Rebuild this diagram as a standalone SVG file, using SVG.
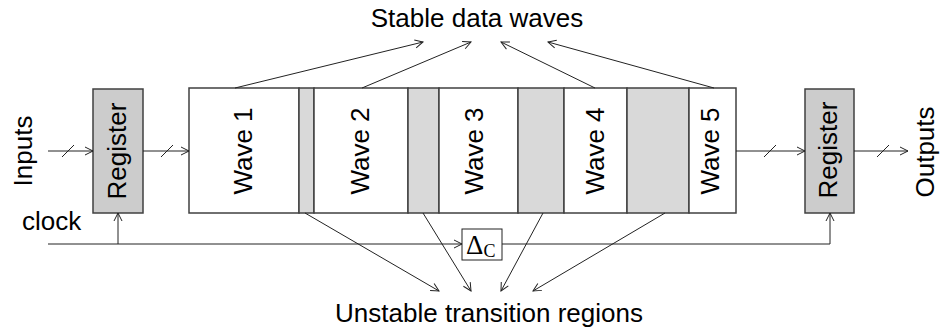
<svg xmlns="http://www.w3.org/2000/svg" width="944" height="334" viewBox="0 0 944 334">
  <style>
    .lbl { font-family: "Liberation Sans", Arial, sans-serif; font-size: 26px; fill: #000; }
    .box { stroke: #404040; stroke-width: 1.5; }
    .reg { fill: #cccccc; }
    .wave { fill: #ffffff; }
    .gap { fill: #d9d9d9; }
    .wire { stroke: #222; stroke-width: 1; fill: none; }
    .arr { marker-end: url(#open); }
    .bus { stroke: #222; stroke-width: 1; }
  </style>
  <defs>
    <marker id="open" markerWidth="10" markerHeight="10" refX="9" refY="5" orient="auto" markerUnits="userSpaceOnUse">
      <path d="M1,1 L9,5 L1,9" fill="none" stroke="#222" stroke-width="1"/>
    </marker>
  </defs>

  <rect width="944" height="334" fill="#ffffff"/>

  <!-- side labels -->
  <g id="inputs">
    <text class="lbl" text-anchor="middle" transform="translate(32,151) rotate(-90)">Inputs</text>
  </g>
  <g id="outputs">
    <text class="lbl" text-anchor="middle" transform="translate(934,152) rotate(-90)">Outputs</text>
  </g>
  <g id="clock">
    <text class="lbl" x="22" y="230">clock</text>
  </g>
  <g id="stable-label">
    <text class="lbl" text-anchor="middle" x="477" y="27">Stable data waves</text>
  </g>
  <g id="unstable-label">
    <text class="lbl" text-anchor="middle" x="489" y="322">Unstable transition regions</text>
  </g>

  <!-- input register -->
  <g id="reg-in">
    <rect class="box reg" x="93" y="89" width="50" height="124"/>
    <text class="lbl" text-anchor="middle" transform="translate(126,151) rotate(-90)">Register</text>
  </g>

  <!-- output register -->
  <g id="reg-out">
    <rect class="box reg" x="805" y="89" width="49" height="124"/>
    <text class="lbl" text-anchor="middle" transform="translate(837,150) rotate(-90)">Register</text>
  </g>

  <!-- pipeline of waves and transition regions -->
  <g id="wave-1">
    <rect class="box wave" x="189" y="88" width="110" height="125"/>
    <text class="lbl" text-anchor="middle" transform="translate(252,151) rotate(-90)">Wave 1</text>
  </g>
  <g id="gap-1"><rect class="box gap" x="299" y="88" width="15" height="125"/></g>
  <g id="wave-2">
    <rect class="box wave" x="314" y="88" width="94" height="125"/>
    <text class="lbl" text-anchor="middle" transform="translate(369,151) rotate(-90)">Wave 2</text>
  </g>
  <g id="gap-2"><rect class="box gap" x="408" y="88" width="31" height="125"/></g>
  <g id="wave-3">
    <rect class="box wave" x="439" y="88" width="79" height="125"/>
    <text class="lbl" text-anchor="middle" transform="translate(483,151) rotate(-90)">Wave 3</text>
  </g>
  <g id="gap-3"><rect class="box gap" x="518" y="88" width="46" height="125"/></g>
  <g id="wave-4">
    <rect class="box wave" x="564" y="88" width="63" height="125"/>
    <text class="lbl" text-anchor="middle" transform="translate(604,151) rotate(-90)">Wave 4</text>
  </g>
  <g id="gap-4"><rect class="box gap" x="627" y="88" width="62" height="125"/></g>
  <g id="wave-5">
    <rect class="box wave" x="689" y="88" width="47" height="125"/>
    <text class="lbl" text-anchor="middle" transform="translate(719,151) rotate(-90)">Wave 5</text>
  </g>

  <!-- clock skew element -->
  <g id="delta-c">
    <rect x="462" y="229" width="40" height="31" fill="#fff" stroke="#222" stroke-width="1"/>
    <text x="466" y="254" font-family="'Liberation Serif', 'Times New Roman', serif" font-size="27" fill="#000">Δ<tspan font-size="18" dy="3">C</tspan></text>
  </g>

  <g id="connectors">
    <!-- data path -->
    <line class="wire arr" x1="48" y1="151" x2="93" y2="151"/>
    <line class="bus" x1="62" y1="157" x2="74" y2="145"/>
    <line class="wire arr" x1="143" y1="151" x2="189" y2="151"/>
    <line class="bus" x1="161" y1="157" x2="173" y2="145"/>
    <line class="wire arr" x1="736" y1="151" x2="805" y2="151"/>
    <line class="bus" x1="764" y1="157" x2="776" y2="145"/>
    <line class="wire arr" x1="854" y1="151" x2="908" y2="151"/>
    <line class="bus" x1="877" y1="157" x2="889" y2="145"/>

    <!-- clock distribution -->
    <line class="wire arr" x1="48" y1="244" x2="462" y2="244"/>
    <line class="wire arr" x1="118" y1="244" x2="118" y2="213"/>
    <polyline class="wire arr" points="502,244 830,244 830,213"/>

    <!-- stable wave pointers -->
    <line class="wire arr" x1="235" y1="88" x2="423" y2="42"/>
    <line class="wire arr" x1="362" y1="88" x2="471" y2="42"/>
    <line class="wire arr" x1="595" y1="88" x2="501" y2="42"/>
    <line class="wire arr" x1="714" y1="88" x2="548" y2="42"/>

    <!-- transition region pointers -->
    <line class="wire arr" x1="305" y1="213" x2="439" y2="291"/>
    <line class="wire arr" x1="423" y1="213" x2="471" y2="291"/>
    <line class="wire arr" x1="543" y1="213" x2="501" y2="291"/>
    <line class="wire arr" x1="665" y1="213" x2="533" y2="291"/>
  </g>
</svg>
